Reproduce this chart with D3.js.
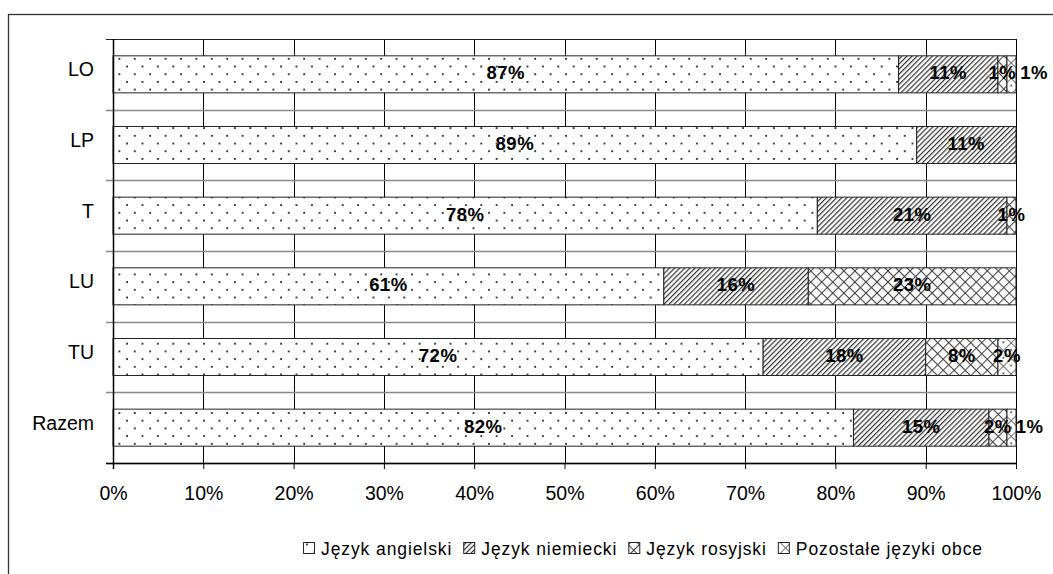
<!DOCTYPE html>
<html>
<head>
<meta charset="utf-8">
<script src="https://cdn.jsdelivr.net/npm/d3@7"></script>
<style>
  html, body { margin: 0; padding: 0; background: #fff; }
  svg { display: block; }
  text { font-family: "Liberation Sans", Arial, sans-serif; }
</style>
</head>
<body>
<svg id="chart" width="1053" height="574"></svg>
<script>
// ---- data ----
const categories = ["LO", "LP", "T", "LU", "TU", "Razem"];
const seriesNames = ["Język angielski", "Język niemiecki", "Język rosyjski", "Pozostałe języki obce"];
const angielski  = [87, 89, 78, 61, 72, 82];
const niemiecki  = [11, 11, 21, 16, 18, 15];
const rosyjski   = [1, 0, 1, 23, 8, 2];
const pozostale  = [1, 0, 0, 0, 2, 1];
const tickValues = [0, 10, 20, 30, 40, 50, 60, 70, 80, 90, 100];
const tickLabels = ["0%", "10%", "20%", "30%", "40%", "50%", "60%", "70%", "80%", "90%", "100%"];

const seriesValues = [angielski, niemiecki, rosyjski, pozostale];
const patternIds = ["pDots", "pHatch", "pCross", "pOther"];

const svg = d3.select("#chart");

// ---- patterns ----
const defs = svg.append("defs");
const pd = defs.append("pattern").attr("id", "pDots").attr("patternUnits", "userSpaceOnUse")
  .attr("width", 15.4).attr("height", 15.4).attr("x", 0).attr("y", 3);
pd.append("rect").attr("width", 15.4).attr("height", 15.4).attr("fill", "#fff");
[[3, 1], [10.7, 8.7]].forEach(([cx, cy]) =>
  pd.append("rect").attr("x", cx).attr("y", cy).attr("width", 1.8).attr("height", 1.8).attr("fill", "#222"));

const ph = defs.append("pattern").attr("id", "pHatch").attr("patternUnits", "userSpaceOnUse")
  .attr("width", 3.6).attr("height", 10).attr("patternTransform", "rotate(45)");
ph.append("rect").attr("width", 3.6).attr("height", 10).attr("fill", "#fff");
ph.append("line").attr("x1", 0.6).attr("y1", 0).attr("x2", 0.6).attr("y2", 10)
  .attr("stroke", "#333").attr("stroke-width", 1.2);

const pc = defs.append("pattern").attr("id", "pCross").attr("patternUnits", "userSpaceOnUse")
  .attr("width", 7.8).attr("height", 7.8).attr("patternTransform", "rotate(45)");
pc.append("rect").attr("width", 7.8).attr("height", 7.8).attr("fill", "#fff");
pc.append("line").attr("x1", 0.5).attr("y1", 0).attr("x2", 0.5).attr("y2", 7.8).attr("stroke", "#444").attr("stroke-width", 1.1);
pc.append("line").attr("x1", 0).attr("y1", 0.5).attr("x2", 7.8).attr("y2", 0.5).attr("stroke", "#444").attr("stroke-width", 1.1);

const po = defs.append("pattern").attr("id", "pOther").attr("patternUnits", "userSpaceOnUse")
  .attr("width", 11).attr("height", 11).attr("patternTransform", "rotate(45)");
po.append("rect").attr("width", 11).attr("height", 11).attr("fill", "#fff");
po.append("line").attr("x1", 0.5).attr("y1", 0).attr("x2", 0.5).attr("y2", 11).attr("stroke", "#666").attr("stroke-width", 0.9);
po.append("line").attr("x1", 0).attr("y1", 0.5).attr("x2", 11).attr("y2", 0.5).attr("stroke", "#666").attr("stroke-width", 0.9);
po.append("circle").attr("cx", 5.5).attr("cy", 5.5).attr("r", 1).attr("fill", "#333");

// ---- outer frame ----
svg.append("rect").attr("x", 8.5).attr("y", 14.5).attr("width", 1100).attr("height", 700)
  .attr("fill", "none").attr("stroke", "#333").attr("stroke-width", 1.3);

// ---- scales ----
const plotLeft = 113, plotRight = 1016, plotTop = 39, plotBottom = 463;
const x = d3.scaleLinear().domain([0, 100]).range([plotLeft, plotRight]);
const y = d3.scaleBand().domain(categories).range([plotTop, plotBottom]).padding(0);
const barH = y.bandwidth() * 0.524;

// vertical gridlines
svg.append("g").selectAll("line").data(tickValues.slice(1)).join("line")
  .attr("x1", d => Math.round(x(d)) + 0.5).attr("x2", d => Math.round(x(d)) + 0.5)
  .attr("y1", plotTop).attr("y2", plotBottom).attr("stroke", "#000").attr("stroke-width", 1);

// horizontal category separators (y ticks)
const seps = d3.range(categories.length + 1).map(i => plotTop + i * y.bandwidth());
svg.append("g").selectAll("line").data(seps).join("line")
  .attr("x1", plotLeft - 7).attr("x2", plotRight)
  .attr("y1", d => Math.round(d) + 0.5).attr("y2", d => Math.round(d) + 0.5)
  .attr("stroke", (d, i) => (i === 0 ? "#222" : "#888")).attr("stroke-width", (d, i) => (i === 0 ? 1 : 1.6));

// ---- stacked bars ----
const stacked = categories.map((c, ci) => {
  let acc = 0;
  return seriesValues.map((vals, si) => {
    const v = vals[ci];
    const seg = { cat: c, series: si, v, x0: acc, x1: acc + v };
    acc += v;
    return seg;
  });
});

const gBars = svg.append("g");
stacked.forEach(row => {
  row.filter(s => s.v > 0).forEach(s => {
    gBars.append("rect")
      .attr("x", x(s.x0)).attr("width", x(s.x1) - x(s.x0))
      .attr("y", y(s.cat) + (y.bandwidth() - barH) / 2).attr("height", barH)
      .attr("fill", `url(#${patternIds[s.series]})`)
      .attr("stroke", "#222").attr("stroke-width", 1);
  });
});

// axes lines
svg.append("line").attr("x1", plotLeft + 0.5).attr("x2", plotLeft + 0.5).attr("y1", plotTop).attr("y2", plotBottom + 6)
  .attr("stroke", "#000").attr("stroke-width", 1.5);
svg.append("line").attr("x1", plotLeft - 7).attr("x2", plotRight).attr("y1", plotBottom + 0.5).attr("y2", plotBottom + 0.5)
  .attr("stroke", "#000").attr("stroke-width", 1.3);

// x ticks
const xAxis = d3.axisBottom(x).tickValues(tickValues).tickFormat((d, i) => tickLabels[i]).tickSize(6).tickPadding(17);
const gx = svg.append("g").attr("transform", `translate(0,${plotBottom})`).call(xAxis);
gx.select(".domain").remove();
gx.selectAll(".tick line").attr("stroke", "#000");
gx.selectAll(".tick text").attr("font-size", 19.5).attr("fill", "#000")
  .attr("font-family", "'Liberation Sans', Arial, sans-serif");

// y category labels
const yAxis = d3.axisLeft(y).tickSize(0).tickPadding(19);
const gy = svg.append("g").attr("transform", `translate(${plotLeft},0)`).call(yAxis);
gy.select(".domain").remove();
gy.selectAll(".tick text").attr("font-size", 19.5).attr("fill", "#000").attr("dy", "0.1em")
  .attr("font-family", "'Liberation Sans', Arial, sans-serif");

// ---- data labels ----
const gLab = svg.append("g");
stacked.forEach(row => {
  let prevRight = -Infinity;
  row.filter(s => s.v > 0).forEach(s => {
    const t = gLab.append("text")
      .attr("font-size", 18.5).attr("font-weight", "bold").attr("fill", "#000")
      .attr("letter-spacing", 0.5)
      .attr("text-anchor", "middle")
      .attr("y", y(s.cat) + y.bandwidth() / 2 + 5)
      .text(s.v + "%");
    const w = t.node().getComputedTextLength();
    let cx = (x(s.x0) + x(s.x1)) / 2;
    if (cx - w / 2 < prevRight + 2) cx = prevRight + 4 + w / 2;
    t.attr("x", cx);
    prevRight = cx + w / 2;
  });
});

// ---- legend (right-aligned) ----
const gLeg = svg.append("g").attr("transform", "translate(0,555)");
const legItems = seriesNames.map((name, i) => {
  const g = gLeg.append("g");
  g.append("rect").attr("x", 0.5).attr("y", -12.5).attr("width", 11).attr("height", 11)
    .attr("fill", `url(#${patternIds[i]})`).attr("stroke", "#222").attr("stroke-width", 1);
  const t = g.append("text").attr("x", 18).attr("y", 0).attr("font-size", 17.5)
    .attr("letter-spacing", 0.9).attr("fill", "#000").text(name);
  return { g, w: 18 + t.node().getComputedTextLength() };
});
let rx = 983;
for (let i = legItems.length - 1; i >= 0; i--) {
  rx -= legItems[i].w;
  legItems[i].g.attr("transform", `translate(${rx},0)`);
  rx -= 11;
}
</script>
</body>
</html>
